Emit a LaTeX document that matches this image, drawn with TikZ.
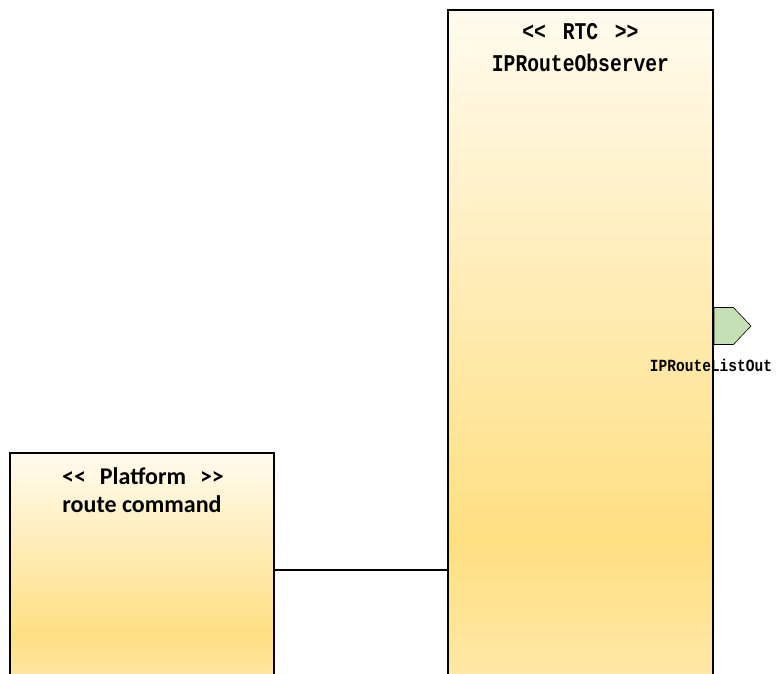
\documentclass[tikz,border=0pt]{standalone}
\usepackage{fontspec}
\usepackage{graphicx}
\setmainfont{Carlito}
\newfontfamily\monofont{Liberation Mono}
\usetikzlibrary{positioning,shapes.symbols}

\definecolor{creamtop}{RGB}{255,251,238}
\definecolor{creamdark}{RGB}{255,223,130}
\definecolor{creambot}{RGB}{255,233,170}
\definecolor{portgreen}{RGB}{197,224,180}
% box is mapped onto 25bp..75bp of the shading
\pgfdeclareverticalshading{compshade}{100bp}{color(0bp)=(creambot); color(25bp)=(creambot); color(36bp)=(creamdark); color(75bp)=(creamtop); color(100bp)=(creamtop)}

\tikzset{
  comp/.style={draw=black, line width=1.4pt, shading=compshade, inner sep=0pt},
  porttip/.style={signal, signal to=east, signal pointer angle=93, draw=black, line width=0.6pt,
    fill=portgreen, minimum width=37pt, minimum height=37pt, inner sep=0pt},
  rtctext/.style={font=\monofont\bfseries\fontsize{24}{26}\selectfont, inner sep=0pt},
  porttext/.style={font=\monofont\bfseries\fontsize{17}{19}\selectfont, inner sep=0pt},
  platext/.style={font=\bfseries\fontsize{24}{26}\selectfont, inner sep=0pt},
  conn/.style={draw=black, line width=1.4pt}
}

\begin{document}
\begin{tikzpicture}[x=1pt, y=-1pt]
  \clip (0,0) rectangle (777,674);
  % components
  \node[comp, minimum width=265pt, minimum height=680pt] (rtc) at (580.5,350) {};
  \node[comp, minimum width=264pt, minimum height=234pt] (platform) at (142,570) {};
  % titles
  \node[rtctext] (rtcstereo) at (580.5,32) {\scalebox{0.82}[1]{<<\hspace{6pt} RTC \hspace{6pt}>>}};
  \node[rtctext] (rtcname) at (580.5,63) {\scalebox{0.82}[1]{IPRouteObserver}};
  \node[platext] (platstereo) at (143,476) {{<}{<}\hspace{14pt}Platform\hspace{14pt}{>}{>}};
  \node[platext] (platname) at (142,504) {route command};
  % port
  \node[porttip, anchor=west] (port) at (rtc.east |- 0,326) {};
  \node[porttext] (portname) at (711,365) {\scalebox{0.855}[1]{IPRouteListOut}};
  % connector
  \draw[conn] (platform.east) -- (platform.east -| rtc.west);
\end{tikzpicture}
\end{document}
